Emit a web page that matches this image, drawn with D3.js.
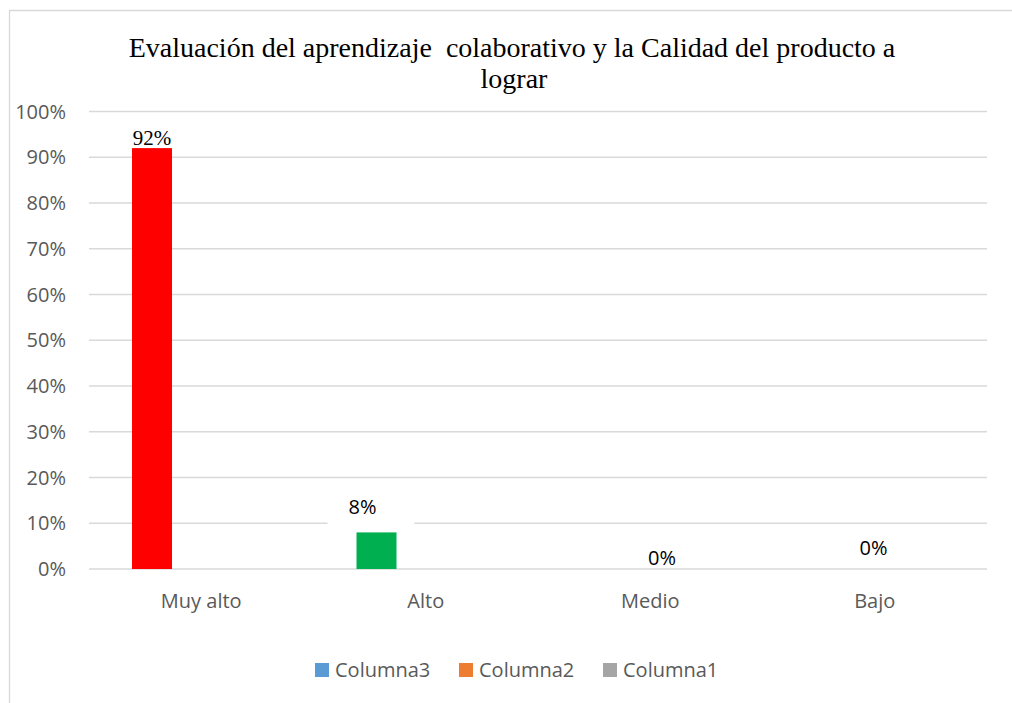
<!DOCTYPE html>
<html>
<head>
  <meta charset="utf-8">
  <title>Evaluación del aprendizaje colaborativo</title>
  <script src="https://d3js.org/d3.v7.min.js"></script>
  <style>
    body { margin: 0; background: #fff; overflow: hidden; }
    svg { display: block; }
    svg text { font-family: "Open Sans", sans-serif; }
    .serif { font-family: "Liberation Serif", "Times New Roman", serif !important; }
  </style>
</head>
<body>
<div id="grafico"></div>
<script>
// datos
var categorias = ["Muy alto", "Alto", "Medio", "Bajo"];
var valores = [0.92, 0.08, 0, 0];
var coloresBarra = ["#ff0000", "#00b050", "#00b050", "#00b050"];
var etiquetas = ["92%", "8%", "0%", "0%"];
var series = ["Serie", "Columna3", "Columna2", "Columna1"];
var leyenda = ["Columna3", "Columna2", "Columna1"];
var coloresLeyenda = ["#5b9bd5", "#ed7d31", "#a5a5a5"];
var ticksY = [0, 0.1, 0.2, 0.3, 0.4, 0.5, 0.6, 0.7, 0.8, 0.9, 1];

// ajustes de las etiquetas (movidas a mano en el original)
var etiquetaDx = [0, -14, 61, 48];
var etiquetaDy = [-3, -18, -4, -14];

var W = 1012, H = 703;
var m = { left: 89, right: 1012 - 987, top: 111.5, bottom: 703 - 569 };

var svg = d3.select("#grafico").append("svg")
  .attr("width", W).attr("height", H);

// borde del area del grafico (solo se ve arriba y a la izquierda)
svg.append("path")
  .attr("d", "M9.5," + (H + 20) + "V10.5H" + (W + 20))
  .attr("fill", "none").attr("stroke", "#d9d9d9").attr("stroke-width", 1.3);

var x = d3.scaleBand().domain(categorias).range([m.left, W - m.right]);
var xs = d3.scaleBand().domain(series).range([43, 43 + 40 * series.length]);
var y = d3.scaleLinear().domain([0, 1]).range([H - m.bottom, m.top]);

// lineas de la cuadricula
svg.append("g").selectAll("line").data(ticksY).enter().append("line")
  .attr("x1", m.left).attr("x2", W - m.right)
  .attr("y1", d => y(d)).attr("y2", d => y(d))
  .attr("stroke", "#d9d9d9").attr("stroke-width", 1.5);

// etiquetas eje y
svg.append("g").selectAll("text").data(ticksY).enter().append("text")
  .attr("x", 66).attr("y", d => y(d))
  .attr("dy", "0.36em")
  .attr("text-anchor", "end")
  .attr("fill", "#595959").attr("font-size", 20)
  .text(d => d3.format(".0%")(d));

// barras
svg.append("g").selectAll("rect").data(valores).enter().append("rect")
  .attr("x", (d, i) => x(categorias[i]) + xs("Serie"))
  .attr("y", d => y(d))
  .attr("width", xs.bandwidth())
  .attr("height", d => y(0) - y(d))
  .attr("fill", (d, i) => coloresBarra[i]);

// etiquetas de datos
var et = svg.append("g");
valores.forEach(function(v, i) {
  var cx = x(categorias[i]) + xs("Serie") + xs.bandwidth() / 2 + etiquetaDx[i];
  var cy = y(v) + etiquetaDy[i];
  if (i == 1) {
    et.append("rect")
      .attr("x", cx - 35).attr("y", cy - 22)
      .attr("width", 87).attr("height", 34)
      .attr("fill", "#fff");
  }
  et.append("text")
    .attr("class", i == 0 ? "serif" : null)
    .attr("x", cx).attr("y", cy)
    .attr("text-anchor", "middle")
    .attr("fill", "#000")
    .attr("font-size", i == 0 ? 21 : 20)
    .text(etiquetas[i]);
});

// etiquetas eje x
svg.append("g").selectAll("text").data(categorias).enter().append("text")
  .attr("x", d => x(d) + x.bandwidth() / 2)
  .attr("y", 608)
  .attr("text-anchor", "middle")
  .attr("fill", "#595959").attr("font-size", 20)
  .text(d => d);

// titulo
var titulo = svg.append("text").attr("class", "serif")
  .attr("text-anchor", "middle").attr("font-size", 28)
  .attr("fill", "#000")
  .style("white-space", "pre");
titulo.append("tspan").attr("x", 512).attr("y", 57)
  .text("Evaluación del aprendizaje  colaborativo y la Calidad del producto a");
titulo.append("tspan").attr("x", 514).attr("y", 88).text("lograr");

// leyenda
var ley = svg.append("g").selectAll("g").data(leyenda).enter().append("g")
  .attr("transform", (d, i) => "translate(" + (315 + i * 144) + ",663)");
ley.append("rect").attr("width", 14).attr("height", 14)
  .attr("fill", (d, i) => coloresLeyenda[i]);
ley.append("text").attr("x", 20).attr("y", 14)
  .attr("fill", "#595959").attr("font-size", 20)
  .text(d => d);
</script>
</body>
</html>
